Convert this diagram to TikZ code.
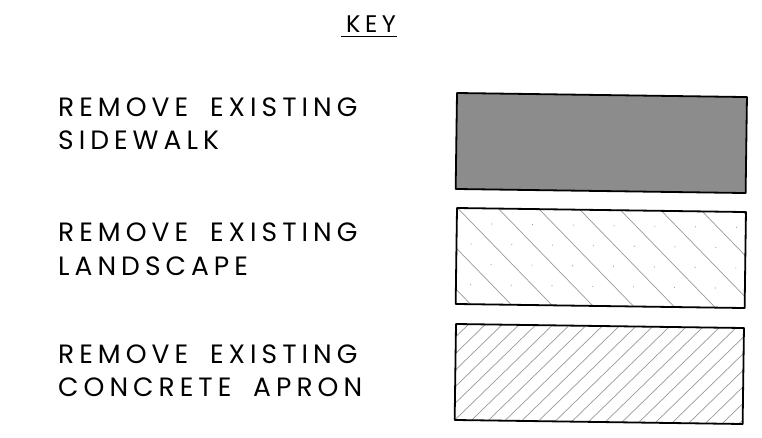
\documentclass[tikz,border=0pt]{standalone}
\usepackage{fontspec}
\newfontfamily\keyfont{Poppins}[LetterSpace=19, WordSpace=1.8]

\definecolor{walkgray}{HTML}{8C8C8C}
\definecolor{hatchgray}{HTML}{999999}

\tikzset{
	keybox/.style={draw=black, line width=1.8pt, line join=round},
	hatchline/.style={draw=hatchgray, line width=0.7pt},
	keydot/.style={fill=hatchgray},
	keytext/.style={anchor=base west, inner sep=0pt, font=\keyfont\fontsize{26.5}{30}\selectfont},
	keytitle/.style={anchor=base, inner sep=0pt, font=\keyfont\fontsize{24}{28}\selectfont}
}

\begin{document}
\begin{tikzpicture}[x=1pt,y=-1pt]
	\useasboundingbox (0,0) rectangle (762,438);

	% title
	\node[keytitle] (key) at (371,33) {KEY};
	\draw[line width=1.3pt] ([shift={(-5,3.5)}]key.base west) -- ([shift={(1,3.5)}]key.base east);

	% labels
	\node[keytext] (sidewalk1) at (58,117) {REMOVE EXISTING};
	\node[keytext] (sidewalk2) at (58,150) {SIDEWALK};

	\node[keytext] (landscape1) at (58,241) {REMOVE EXISTING};
	\node[keytext] (landscape2) at (58,275) {LANDSCAPE};

	\node[keytext] (apron1) at (58,363) {REMOVE EXISTING};
	\node[keytext] (apron2) at (58,396) {CONCRETE APRON};

	% sidewalk: solid grey
	\begin{scope}[shift={(457,93)}, rotate=-0.8]
		\draw[keybox, fill=walkgray] (0,0) rectangle (290,96);
	\end{scope}

	% landscape: wide hatch with dots
	\begin{scope}[shift={(457,208)}, rotate=-0.8]
		\begin{scope}
			\clip (0,0) rectangle (289,96);
			\foreach \c in {-2,...,7}
				\draw[hatchline] ({0.5+40.8*\c},0) -- ++(96,96);
			\foreach \j in {0,...,3}
				\foreach \i in {0,...,6}
					\fill[keydot] ({14.5+20.4*mod(\j+1,2)+40.8*\i},{15.5+20.3*\j}) circle (0.6);
		\end{scope}
		\draw[keybox] (0,0) rectangle (289,96);
	\end{scope}

	% concrete apron: close hatch
	\begin{scope}[shift={(456,324)}, rotate=-0.8]
		\begin{scope}
			\clip (0,0) rectangle (288,96);
			\foreach \c in {-4,12.7,...,390}
				\draw[hatchline] (\c,0) -- ++(-96,96);
		\end{scope}
		\draw[keybox] (0,0) rectangle (288,96);
	\end{scope}

\end{tikzpicture}
\end{document}
